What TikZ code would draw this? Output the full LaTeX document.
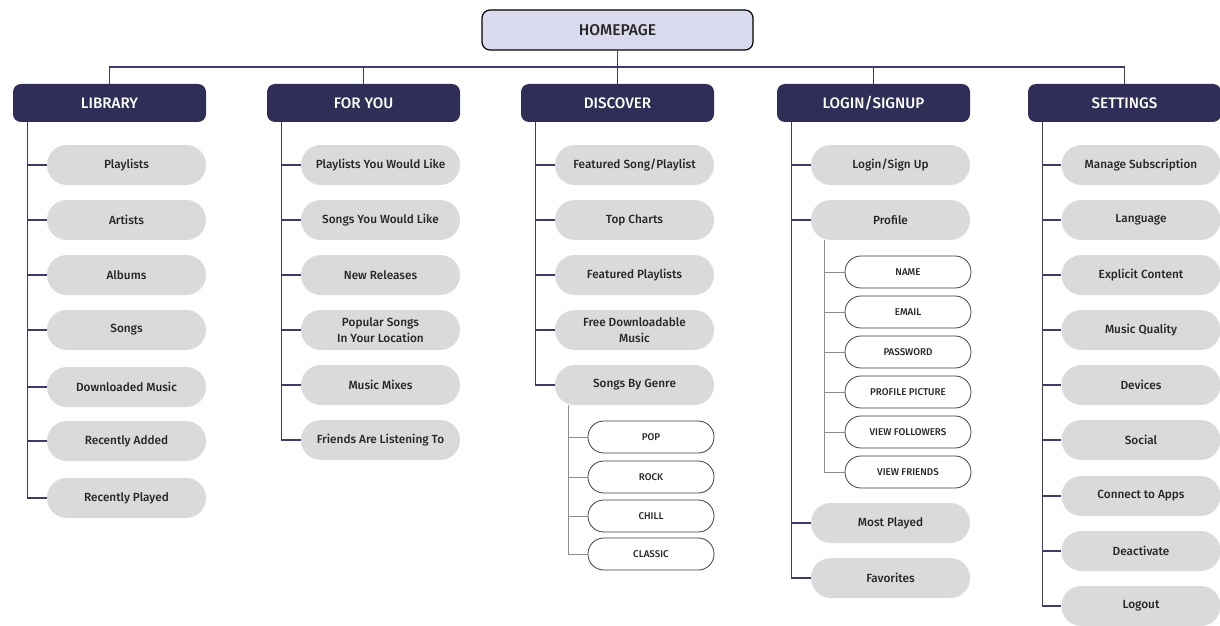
\documentclass[tikz,border=0pt]{standalone}
\usepackage{fontspec}
\setmainfont{Fira Sans}[BoldFont={Fira Sans Medium}]
\definecolor{navy}{RGB}{47,46,86}
\definecolor{navyline}{RGB}{62,60,102}
\definecolor{pillgray}{RGB}{218,218,218}
\definecolor{homefill}{RGB}{218,218,238}
\definecolor{subline}{RGB}{140,140,140}
\definecolor{subedge}{RGB}{60,60,60}
\tikzset{
	home/.style={draw=black, fill=homefill, rounded corners=4pt, line width=0.6pt, minimum width=135.5pt, minimum height=20pt, font=\fontsize{7.8}{9}\selectfont\bfseries, text=black!85},
	section/.style={fill=navy, rounded corners=4pt, minimum width=96.5pt, minimum height=19pt, font=\fontsize{7.6}{9}\selectfont\bfseries, text=white},
	page/.style={fill=pillgray, rounded corners=9.9pt, minimum width=79.5pt, minimum height=20pt, align=center, font=\fontsize{5.9}{8}\selectfont\bfseries, text=black!85},
	field/.style={draw=subedge, fill=white, rounded corners=7.9pt, line width=0.4pt, minimum width=63pt, minimum height=16pt, font=\fontsize{4.9}{6}\selectfont\bfseries, text=black!85},
	trunk/.style={draw=navyline, line width=0.6pt},
	branch/.style={draw=subline, line width=0.5pt}
}
\begin{document}
\begin{tikzpicture}[x=0.5pt,y=-0.5pt]
	\useasboundingbox (0,0) rectangle (1220,626);
	% top level
	\node [home] (home) at (617.5,30) {HOMEPAGE};
	\coordinate (bus) at (617.5,67);
	\node [section] (lib) at (109.5,103) {LIBRARY};
	\node [section] (foryou) at (363.5,103) {FOR YOU};
	\node [section] (disc) at (617.5,103) {DISCOVER};
	\node [section] (login) at (873.5,103) {LOGIN/SIGNUP};
	\node [section] (sett) at (1124.5,103) {SETTINGS};
	\draw [trunk] (home) -- (disc);
	\draw [trunk] (lib.north) -- (lib.north |- bus) -- (sett.north |- bus) -- (sett.north);
	\draw [trunk] (foryou.north |- bus) -- (foryou.north);
	\draw [trunk] (login.north |- bus) -- (login.north);

	% library
	\node [page] (lib1) at (126.5,165) {Playlists};
	\node [page] (lib2) at (126.5,220) {Artists};
	\node [page] (lib3) at (126.5,275) {Albums};
	\node [page] (lib4) at (126.5,330) {Songs};
	\node [page] (lib5) at (126.5,387) {Downloaded Music};
	\node [page] (lib6) at (126.5,441) {Recently Added};
	\node [page] (lib7) at (126.5,498) {Recently Played};
	\draw [trunk] ([xshift=7.5pt]lib.south west) |- (lib1.west);
	\draw [trunk] ([xshift=7.5pt]lib.south west) |- (lib2.west);
	\draw [trunk] ([xshift=7.5pt]lib.south west) |- (lib3.west);
	\draw [trunk] ([xshift=7.5pt]lib.south west) |- (lib4.west);
	\draw [trunk] ([xshift=7.5pt]lib.south west) |- (lib5.west);
	\draw [trunk] ([xshift=7.5pt]lib.south west) |- (lib6.west);
	\draw [trunk] ([xshift=7.5pt]lib.south west) |- (lib7.west);

	% for you
	\node [page] (fy1) at (380.5,165) {Playlists You Would Like};
	\node [page] (fy2) at (380.5,220) {Songs You Would Like};
	\node [page] (fy3) at (380.5,275) {New Releases};
	\node [page] (fy4) at (380.5,330) {Popular Songs\\In Your Location};
	\node [page] (fy5) at (380.5,385) {Music Mixes};
	\node [page] (fy6) at (380.5,440) {Friends Are Listening To};
	\draw [trunk] ([xshift=7.5pt]foryou.south west) |- (fy1.west);
	\draw [trunk] ([xshift=7.5pt]foryou.south west) |- (fy2.west);
	\draw [trunk] ([xshift=7.5pt]foryou.south west) |- (fy3.west);
	\draw [trunk] ([xshift=7.5pt]foryou.south west) |- (fy4.west);
	\draw [trunk] ([xshift=7.5pt]foryou.south west) |- (fy5.west);
	\draw [trunk] ([xshift=7.5pt]foryou.south west) |- (fy6.west);

	% discover
	\node [page] (dc1) at (634.5,165) {Featured Song/Playlist};
	\node [page] (dc2) at (634.5,220) {Top Charts};
	\node [page] (dc3) at (634.5,275) {Featured Playlists};
	\node [page] (dc4) at (634.5,330) {Free Downloadable\\Music};
	\node [page] (dc5) at (634.5,385) {Songs By Genre};
	\draw [trunk] ([xshift=7.5pt]disc.south west) |- (dc1.west);
	\draw [trunk] ([xshift=7.5pt]disc.south west) |- (dc2.west);
	\draw [trunk] ([xshift=7.5pt]disc.south west) |- (dc3.west);
	\draw [trunk] ([xshift=7.5pt]disc.south west) |- (dc4.west);
	\draw [trunk] ([xshift=7.5pt]disc.south west) |- (dc5.west);
	\node [field] (g1) at (651,437) {POP};
	\node [field] (g2) at (651,477) {ROCK};
	\node [field] (g3) at (651,516) {CHILL};
	\node [field] (g4) at (651,554) {CLASSIC};
	\draw [branch] ([xshift=7pt]dc5.south west) |- (g1.west);
	\draw [branch] ([xshift=7pt]dc5.south west) |- (g2.west);
	\draw [branch] ([xshift=7pt]dc5.south west) |- (g3.west);
	\draw [branch] ([xshift=7pt]dc5.south west) |- (g4.west);

	% login/signup
	\node [page] (lg1) at (890.5,165) {Login/Sign Up};
	\node [page] (lg2) at (890.5,220) {Profile};
	\node [page] (lg3) at (890.5,523) {Most Played};
	\node [page] (lg4) at (890.5,578) {Favorites};
	\draw [trunk] ([xshift=7.5pt]login.south west) |- (lg1.west);
	\draw [trunk] ([xshift=7.5pt]login.south west) |- (lg2.west);
	\draw [trunk] ([xshift=7.5pt]login.south west) |- (lg3.west);
	\draw [trunk] ([xshift=7.5pt]login.south west) |- (lg4.west);
	\node [field] (pf1) at (908,272) {NAME};
	\node [field] (pf2) at (908,312) {EMAIL};
	\node [field] (pf3) at (908,352) {PASSWORD};
	\node [field] (pf4) at (908,392) {PROFILE PICTURE};
	\node [field] (pf5) at (908,432) {VIEW FOLLOWERS};
	\node [field] (pf6) at (908,472) {VIEW FRIENDS};
	\draw [branch] ([xshift=7pt]lg2.south west) |- (pf1.west);
	\draw [branch] ([xshift=7pt]lg2.south west) |- (pf2.west);
	\draw [branch] ([xshift=7pt]lg2.south west) |- (pf3.west);
	\draw [branch] ([xshift=7pt]lg2.south west) |- (pf4.west);
	\draw [branch] ([xshift=7pt]lg2.south west) |- (pf5.west);
	\draw [branch] ([xshift=7pt]lg2.south west) |- (pf6.west);

	% settings
	\node [page] (st1) at (1141,165) {Manage Subscription};
	\node [page] (st2) at (1141,220) {Language};
	\node [page] (st3) at (1141,275) {Explicit Content};
	\node [page] (st4) at (1141,330) {Music Quality};
	\node [page] (st5) at (1141,385) {Devices};
	\node [page] (st6) at (1141,440) {Social};
	\node [page] (st7) at (1141,496) {Connect to Apps};
	\node [page] (st8) at (1141,551) {Deactivate};
	\node [page] (st9) at (1141,606) {Logout};
	\draw [trunk] ([xshift=7.5pt]sett.south west) |- (st1.west);
	\draw [trunk] ([xshift=7.5pt]sett.south west) |- (st2.west);
	\draw [trunk] ([xshift=7.5pt]sett.south west) |- (st3.west);
	\draw [trunk] ([xshift=7.5pt]sett.south west) |- (st4.west);
	\draw [trunk] ([xshift=7.5pt]sett.south west) |- (st5.west);
	\draw [trunk] ([xshift=7.5pt]sett.south west) |- (st6.west);
	\draw [trunk] ([xshift=7.5pt]sett.south west) |- (st7.west);
	\draw [trunk] ([xshift=7.5pt]sett.south west) |- (st8.west);
	\draw [trunk] ([xshift=7.5pt]sett.south west) |- (st9.west);
\end{tikzpicture}
\end{document}
